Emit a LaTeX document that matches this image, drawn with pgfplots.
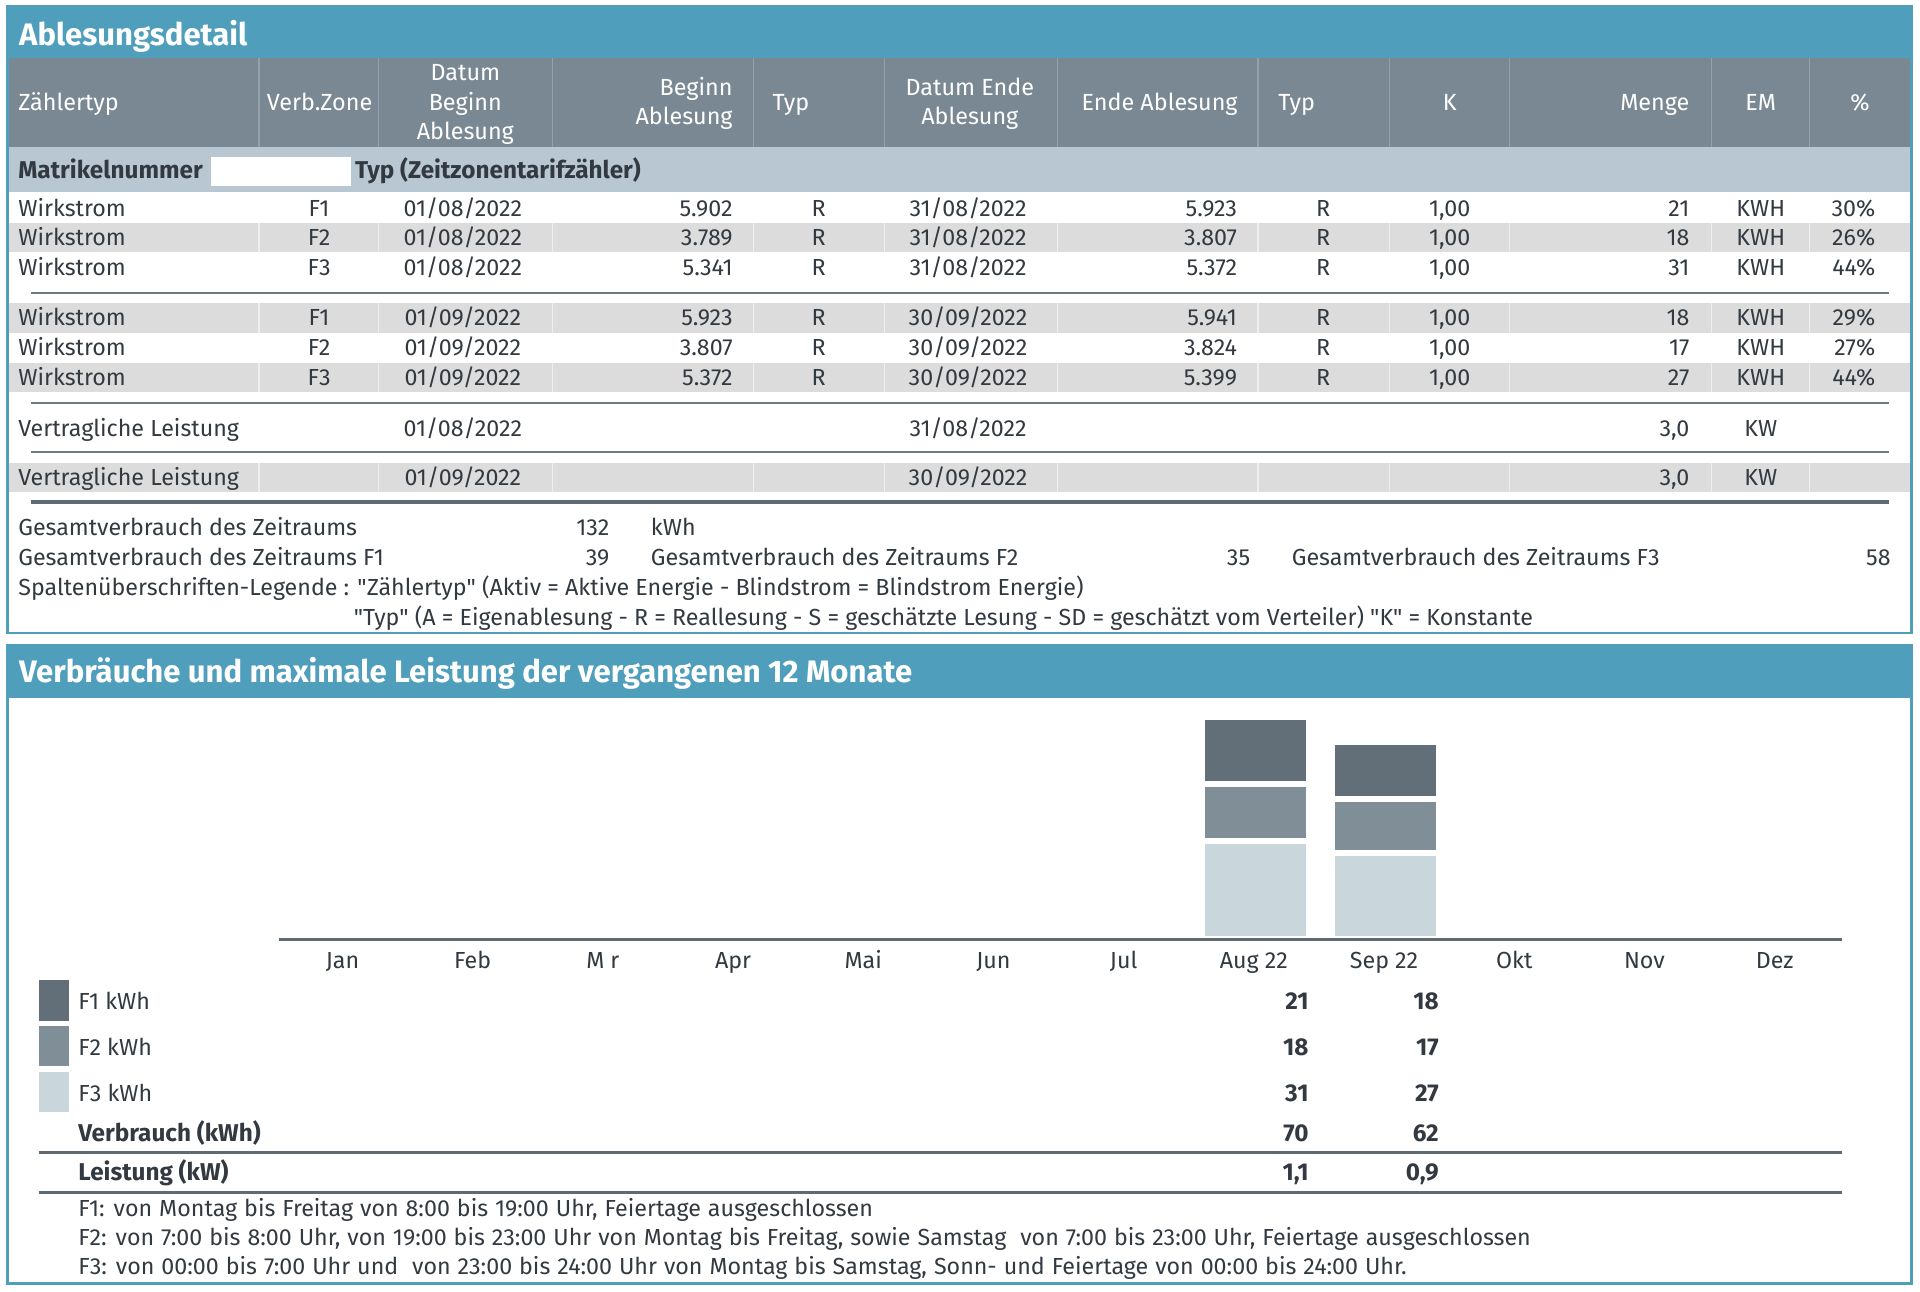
\documentclass[border=0pt]{standalone}
\usepackage{pgfplots}
\usepackage{pgfplotstable}
\pgfplotsset{compat=1.18}
\usepackage{fontspec}
\setmainfont{Fira Sans}
\definecolor{hblue}{RGB}{79,159,188}
\definecolor{hgray}{RGB}{122,136,147}
\definecolor{hsep}{RGB}{148,160,170}
\definecolor{subband}{RGB}{185,199,211}
\definecolor{rowgray}{RGB}{220,220,220}
\definecolor{txtc}{RGB}{50,57,64}
\definecolor{rulec}{RGB}{95,106,115}
\definecolor{cFa}{RGB}{99,111,120}
\definecolor{cFb}{RGB}{128,142,152}
\definecolor{cFc}{RGB}{201,215,220}
\newcommand{\bodyfont}{\fontsize{5.4}{6.5}\selectfont}
\newcommand{\notefont}{\fontsize{5.4}{6.5}\selectfont\spaceskip=1.62pt}
\newcommand{\boldfont}{\fontsize{5.65}{6.5}\selectfont\bfseries}
\newcommand{\hdrfont}{\fontsize{5.43}{6.5}\selectfont}
\newcommand{\titlefont}{\fontsize{7.22}{8}\selectfont\bfseries}
\newcommand{\q}{\textquotedbl}

\pgfplotstableread{
x  F3 F2 F1
7  31 18 21
8  27 17 18
}\verbrauch

\begin{document}
\begin{tikzpicture}[
  txt/.style={inner sep=0pt, outer sep=0pt, text=txtc, font=\bodyfont},
  ntxt/.style={inner sep=0pt, outer sep=0pt, text=txtc, font=\notefont},
  btxt/.style={inner sep=0pt, outer sep=0pt, text=txtc, font=\boldfont},
  wtxt/.style={inner sep=0pt, outer sep=0pt, text=white, font=\hdrfont},
]
\begin{scope}[x=0.1mm,y=-0.1mm]
\path (0,0) rectangle (1568,1055);
% ---------------- Frame 1 ----------------
\fill[hblue] (6,5) rectangle (1561,47);
\fill[hgray] (6,47) rectangle (1561,120);
\fill[subband] (6,120) rectangle (1561,157);
\fill[white] (172,128) rectangle (287,152);
\fill[rowgray] (6,182) rectangle (1561,205.5);
\fill[rowgray] (6,247.7) rectangle (1561,271.7);
\fill[rowgray] (6,296.2) rectangle (1561,320.4);
\fill[rowgray] (6,377.8) rectangle (1561,402);
\foreach \s in {211.5,309.2,451.4,615.4,722.2,863.7,1027.4,1135,1233,1398,1478} {
  \draw[hsep, line width=0.1mm] (\s,47) -- (\s,120);
  \foreach \a/\b in {182/205.5, 247.7/271.7, 296.2/320.4, 377.8/402}
    \draw[white!55!rowgray, line width=0.1mm] (\s,\a) -- (\s,\b);
}
\draw[rulec!90, line width=0.18mm] (25,239) -- (1543,239);
\draw[rulec!90, line width=0.18mm] (25,328.8) -- (1543,328.8);
\draw[rulec!90, line width=0.18mm] (25,369.4) -- (1543,369.4);
\draw[rulec, line width=0.3mm] (25,409.7) -- (1543,409.7);
\draw[hblue, line width=0.2mm] (6,5) rectangle (1561,517);
\node[anchor=base west, inner sep=0pt, text=white, font=\titlefont] at (15,36.75) {Ablesungsdetail};
% header
\node[wtxt, anchor=base west] at (15,90) {Zählertyp};
\node[wtxt, anchor=base] at (261,90) {Verb.Zone};
\node[wtxt, anchor=base] at (380,66) {Datum};
\node[wtxt, anchor=base] at (380,90) {Beginn};
\node[wtxt, anchor=base] at (380,114) {Ablesung};
\node[wtxt, anchor=base east] at (598.3,78) {Beginn};
\node[wtxt, anchor=base east] at (598.3,102) {Ablesung};
\node[wtxt, anchor=base west] at (631,90) {Typ};
\node[wtxt, anchor=base] at (792,78) {Datum Ende};
\node[wtxt, anchor=base] at (792,102) {Ablesung};
\node[wtxt, anchor=base] at (947,90) {Ende Ablesung};
\node[wtxt, anchor=base west] at (1044,90) {Typ};
\node[wtxt, anchor=base] at (1184,90) {K};
\node[wtxt, anchor=base east] at (1379.7,90) {Menge};
\node[wtxt, anchor=base] at (1438,90) {EM};
\node[wtxt, anchor=base] at (1519,90) {\%};
\node[btxt, anchor=base west] at (15,146) {Matrikelnummer};
\node[btxt, anchor=base west] at (290,146) {Typ (Zeitzonentarifzähler)};
% rows
\newcommand{\wrow}[8]{%
  \node[txt, anchor=base west] at (15,#1) {Wirkstrom};
  \node[txt, anchor=base] at (260.6,#1) {#2};
  \node[txt, anchor=base] at (378,#1) {#3};
  \node[txt, anchor=base east] at (598.3,#1) {#4};
  \node[txt, anchor=base] at (668.6,#1) {R};
  \node[txt, anchor=base] at (790.6,#1) {#5};
  \node[txt, anchor=base east] at (1010.2,#1) {#6};
  \node[txt, anchor=base] at (1080.6,#1) {R};
  \node[txt, anchor=base] at (1183.9,#1) {1,00};
  \node[txt, anchor=base east] at (1379.7,#1) {#7};
  \node[txt, anchor=base] at (1438,#1) {KWH};
  \node[txt, anchor=base east] at (1531.5,#1) {#8};
}
\wrow{176.4}{F1}{01/08/2022}{5.902}{31/08/2022}{5.923}{21}{30\%}
\wrow{200.6}{F2}{01/08/2022}{3.789}{31/08/2022}{3.807}{18}{26\%}
\wrow{225.1}{F3}{01/08/2022}{5.341}{31/08/2022}{5.372}{31}{44\%}
\wrow{266.2}{F1}{01/09/2022}{5.923}{30/09/2022}{5.941}{18}{29\%}
\wrow{290.5}{F2}{01/09/2022}{3.807}{30/09/2022}{3.824}{17}{27\%}
\wrow{315.0}{F3}{01/09/2022}{5.372}{30/09/2022}{5.399}{27}{44\%}
\node[txt, anchor=base west] at (15,356.6) {Vertragliche Leistung};
\node[txt, anchor=base] at (378,356.6) {01/08/2022};
\node[txt, anchor=base] at (790.6,356.6) {31/08/2022};
\node[txt, anchor=base east] at (1379.7,356.6) {3,0};
\node[txt, anchor=base] at (1438,356.6) {KW};
\node[txt, anchor=base west] at (15,396.4) {Vertragliche Leistung};
\node[txt, anchor=base] at (378,396.4) {01/09/2022};
\node[txt, anchor=base] at (790.6,396.4) {30/09/2022};
\node[txt, anchor=base east] at (1379.7,396.4) {3,0};
\node[txt, anchor=base] at (1438,396.4) {KW};
% summary
\node[txt, anchor=base west] at (15,437) {Gesamtverbrauch des Zeitraums};
\node[txt, anchor=base east] at (497.6,437) {132};
\node[txt, anchor=base west] at (531.6,437) {kWh};
\node[txt, anchor=base west] at (15,461.5) {Gesamtverbrauch des Zeitraums F1};
\node[txt, anchor=base east] at (497.6,461.5) {39};
\node[txt, anchor=base west] at (531.6,461.5) {Gesamtverbrauch des Zeitraums F2};
\node[txt, anchor=base east] at (1021,461.5) {35};
\node[txt, anchor=base west] at (1055,461.5) {Gesamtverbrauch des Zeitraums F3};
\node[txt, anchor=base east] at (1544,461.5) {58};
\node[txt, anchor=base west] at (15,486) {Spaltenüberschriften-Legende : \q Zählertyp\q\ (Aktiv = Aktive Energie - Blindstrom = Blindstrom Energie)};
\node[txt, anchor=base west] at (289,510.5) {\q Typ\q\ (A = Eigenablesung - R = Reallesung - S = geschätzte Lesung - SD = geschätzt vom Verteiler) \q K\q\ = Konstante};
% ---------------- Frame 2 ----------------
\fill[hblue] (6,527) rectangle (1561,570);
\draw[hblue, line width=0.2mm] (6,527) rectangle (1561,1048);
\node[anchor=base west, inner sep=0pt, text=white, font=\titlefont] at (15,557.5) {Verbräuche und maximale Leistung der vergangenen 12 Monate};
% legend
\fill[cFa] (31.5,800.3) rectangle (56.5,833.5);
\fill[cFb] (31.5,837.6) rectangle (56.5,870.5);
\fill[cFc] (31.5,875.2) rectangle (56.5,907.9);
\node[txt, anchor=base west] at (64,824.8) {F1 kWh};
\node[txt, anchor=base west] at (64,862.1) {F2 kWh};
\node[txt, anchor=base west] at (64,899.2) {F3 kWh};
\node[btxt, anchor=base west] at (64,932.3) {Verbrauch (kWh)};
\node[btxt, anchor=base west] at (64,964.2) {Leistung (kW)};
\foreach \v/\w/\yy in {21/18/824.8, 18/17/862.1, 31/27/899.2, 70/62/932.3, {1,1}/{0,9}/964.2} {
  \node[btxt, anchor=base east] at (1068.7,\yy) {\v};
  \node[btxt, anchor=base east] at (1175,\yy) {\w};
}
\draw[rulec, line width=0.27mm] (31.5,941.1) -- (1504,941.1);
\draw[rulec, line width=0.27mm] (31.5,974) -- (1504,974);
\node[ntxt, anchor=base west] at (64,993.6) {F1: von Montag bis Freitag von 8:00 bis 19:00 Uhr, Feiertage ausgeschlossen};
\node[ntxt, anchor=base west] at (64,1017.5) {F2: von 7:00 bis 8:00 Uhr, von 19:00 bis 23:00 Uhr von Montag bis Freitag, sowie Samstag \ von 7:00 bis 23:00 Uhr, Feiertage ausgeschlossen};
\node[ntxt, anchor=base west] at (64,1040.7) {F3: von 00:00 bis 7:00 Uhr und \ von 23:00 bis 24:00 Uhr von Montag bis Samstag, Sonn- und Feiertage von 00:00 bis 24:00 Uhr.};
\end{scope}
% ---------------- Chart ----------------
\begin{axis}[
  at={(22.8mm,-76.7mm)}, anchor=south west,
  width=127.6mm, height=18.15mm, scale only axis,
  xmin=-0.5, xmax=11.5, ymin=0, ymax=70,
  ybar stacked, bar width=8.73mm,
  axis x line=bottom, axis y line=none,
  x axis line style={-, draw=rulec, line width=0.27mm},
  xtick={0,...,11},
  xticklabels={Jan,Feb,M r,Apr,Mai,Jun,Jul,Aug 22,Sep 22,Okt,Nov,Dez},
  major tick length=0pt,
  xticklabel style={font=\bodyfont, text=txtc, inner sep=0pt, anchor=base, xshift=-0.15mm, yshift=-2.4mm},
  axis on top, clip=false,
]
\addplot[fill=cFc, draw=white, line width=0.49mm] table[x=x, y=F3] {\verbrauch};
\addplot[fill=cFb, draw=white, line width=0.49mm] table[x=x, y=F2] {\verbrauch};
\addplot[fill=cFa, draw=white, line width=0.49mm] table[x=x, y=F1] {\verbrauch};
\end{axis}
\end{tikzpicture}
\end{document}
